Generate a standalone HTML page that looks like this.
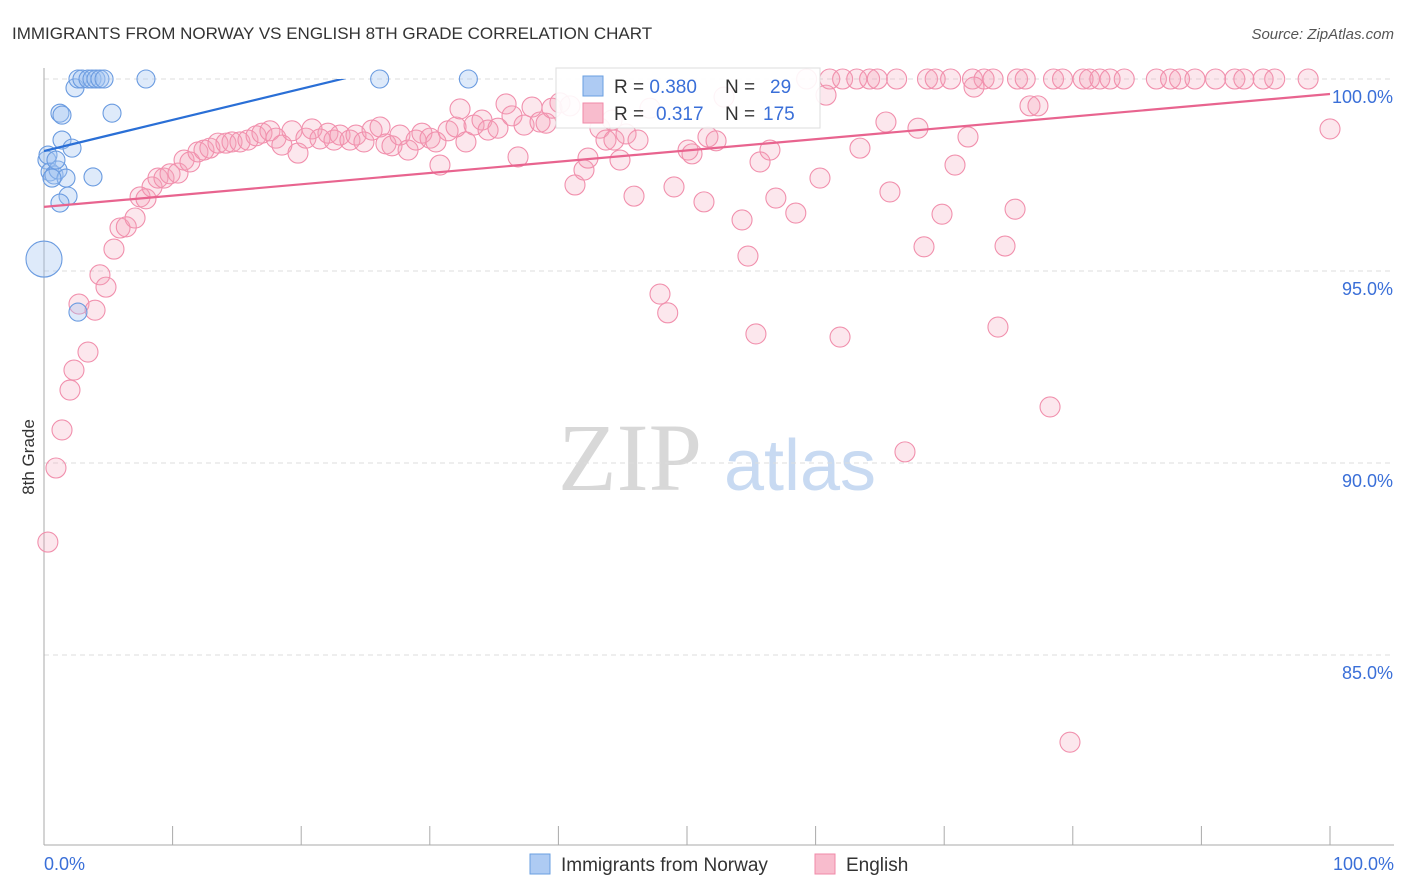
<!DOCTYPE html>
<html><head><meta charset="utf-8"><style>
body{margin:0;background:#fff;font-family:"Liberation Sans",sans-serif;}
svg{display:block}
</style></head><body>
<svg id="chart" width="1406" height="892" viewBox="0 0 1406 892">
<text x="12" y="39" font-size="17" fill="#333">IMMIGRANTS FROM NORWAY VS ENGLISH 8TH GRADE CORRELATION CHART</text>
<text x="1394" y="39" font-size="15" fill="#555" font-style="italic" text-anchor="end">Source: ZipAtlas.com</text>
<text x="630" y="490" font-size="96" fill="#d8d8d8" font-family="Liberation Serif,serif" text-anchor="middle">ZIP</text>
<text x="800" y="490" font-size="72" fill="#c8daf2" text-anchor="middle">atlas</text>
<g id="grid"></g><g id="axes"></g><g id="pts"></g><g id="lines"></g>
<text transform="translate(34,457) rotate(-90)" font-size="17" fill="#333" text-anchor="middle">8th Grade</text>
<g>
<rect x="556" y="68" width="264" height="60" fill="#fff" fill-opacity="0.9" stroke="#ddd"/>
<rect x="583" y="76" width="20" height="20" fill="#aecbf3" stroke="#6a9fe0"/>
<rect x="583" y="103" width="20" height="20" fill="#f8bccd" stroke="#f08aa8"/>
<text x="614" y="93" font-size="19" fill="#333">R = <tspan fill="#3a6fd8">0.380</tspan><tspan x="725">N = </tspan><tspan x="770" fill="#3a6fd8">29</tspan></text>
<text x="614" y="120" font-size="19" fill="#333">R = <tspan x="656" fill="#3a6fd8">0.317</tspan><tspan x="725">N = </tspan><tspan x="763" fill="#3a6fd8">175</tspan></text>
</g>
<g>
<rect x="530" y="854" width="20" height="20" fill="#aecbf3" stroke="#6a9fe0"/>
<text x="561" y="871" font-size="19" fill="#333">Immigrants from Norway</text>
<rect x="815" y="854" width="20" height="20" fill="#f8bccd" stroke="#f08aa8"/>
<text x="846" y="871" font-size="19" fill="#333">English</text>
</g>
</svg>
<script>
const yTicks=[100,95,90,85];
const yTickLabels=["100.0%","95.0%","90.0%","85.0%"];
const xTicks=[0,10,20,30,40,50,60,70,80,90,100];
const blueX=[0.23,0.47,0.78,1.09,1.4,1.71,2.18,2.41,2.64,2.95,3.42,3.73,4.04,4.35,4.67,1.24,1.4,1.87,1.24,3.81,5.29,7.93,26.1,33.0,2.64,0,0.62,0.31,0.93];
const blueY=[97.89,97.58,97.5,97.63,98.41,97.42,98.2,99.77,100,100,100,100,100,100,100,99.11,99.06,96.95,96.77,97.45,99.11,100,100,100,93.93,95.31,97.42,98.02,97.89];
const blueR=[9,9,9,9,9,9,9,9,9,9,9,9,9,9,9,9,9,9,9,9,9,9,9,9,9,18,9,9,9];
const pinkX=[59.3,61.1,62.1,63.2,64.2,64.8,66.3,68.7,69.3,70.5,72.2,73.1,73.8,75.7,76.3,78.5,79.2,80.8,81.3,82.1,82.9,84.0,86.5,87.6,88.3,89.5,91.1,92.6,93.3,94.8,95.7,98.3,
0.3,0.93,1.4,2.02,2.33,3.42,2.72,3.97,4.35,4.82,5.44,5.91,6.4,7.08,7.47,7.93,8.4,8.86,9.33,9.8,10.42,10.89,11.35,11.97,12.44,12.9,13.53,14.15,14.62,15.24,15.86,16.49,16.95,17.57,18.04,18.5,19.28,19.75,20.37,20.84,21.46,22.08,22.55,23.02,23.79,24.26,24.88,25.51,26.13,26.59,27.06,27.68,28.31,28.93,29.39,30.02,30.48,30.79,31.42,32.04,32.35,32.81,33.44,34.06,34.53,35.3,35.93,36.39,36.86,37.33,37.95,38.57,39.04,39.5,40.12,40.9,41.29,41.99,42.3,43.23,43.7,44.17,44.32,44.79,45.26,45.88,46.19,47.12,47.9,48.5,48.99,50.08,50.39,51.32,51.63,52.26,52.88,54.28,54.74,55.36,55.68,56.45,56.91,58.46,60.34,60.81,61.9,63.45,65.47,65.78,66.95,67.96,68.43,69.83,70.84,71.85,72.32,74.18,74.73,75.51,76.67,77.29,78.23,79.78,100];
const pinkY=[100,100,100,100,100,100,100,100,100,100,100,100,100,100,100,100,100,100,100,100,100,100,100,100,100,100,100,100,100,100,100,100,
87.94,89.87,90.86,91.9,92.42,92.89,94.14,93.98,94.9,94.58,95.57,96.12,96.15,96.38,96.93,96.88,97.19,97.42,97.42,97.53,97.55,97.89,97.84,98.1,98.15,98.2,98.33,98.33,98.36,98.36,98.41,98.52,98.59,98.65,98.46,98.28,98.65,98.07,98.46,98.7,98.44,98.59,98.41,98.54,98.41,98.54,98.36,98.67,98.75,98.31,98.26,98.54,98.15,98.41,98.59,98.46,98.36,97.76,98.65,98.75,99.22,98.36,98.8,98.93,98.67,98.72,99.35,99.04,97.97,98.8,99.27,98.88,98.85,99.24,99.38,99.3,97.24,97.63,97.94,98.72,98.41,98.93,98.41,97.89,98.57,96.95,98.41,99.24,94.4,93.91,97.19,98.15,98.05,96.8,98.49,98.39,99.53,96.33,95.39,93.36,97.84,98.15,96.9,96.51,97.42,99.58,93.28,98.2,98.88,97.06,90.29,98.72,95.63,96.48,97.76,98.49,99.79,93.54,95.65,96.61,99.3,99.3,91.46,82.73,98.7];
const blueTrend=[98.125,100.23];
const pinkTrend=[96.67,99.61];
const NS="http://www.w3.org/2000/svg";
const X0=44,X1=1330,YT=79,YB=655,PB=845;
function sx(v){return X0+(X1-X0)*v/100;}
function sy(v){return YT+(100-v)*(YB-YT)/15;}
function mk(tag,attrs,parent){const e=document.createElementNS(NS,tag);for(const k in attrs)e.setAttribute(k,attrs[k]);parent.appendChild(e);return e;}
const grid=document.getElementById('grid'),axes=document.getElementById('axes'),pts=document.getElementById('pts'),lines=document.getElementById('lines');
yTicks.forEach((t,i)=>{
 const l=mk('line',{x1:X0,x2:1394,y1:sy(t),y2:sy(t),stroke:'#ddd','stroke-dasharray':'5,4'},grid);
 
 
 const tx=mk('text',{x:1393,y:sy(t)+24,'font-size':18,fill:'#3a6fd8','text-anchor':'end'},axes);
 tx.textContent=yTickLabels[i];
 
 
});
const ax=mk('line',{x1:X0,x2:X0,y1:68,y2:PB,stroke:'#aaa'},axes);


const bx=mk('line',{x1:X0,x2:1394,y1:PB,y2:PB,stroke:'#aaa'},axes);


xTicks.forEach(t=>{
 const l=mk('line',{x1:sx(t),x2:sx(t),y1:826,y2:PB,stroke:'#aaa'},axes);
 
 
});
const xl0=mk('text',{x:44,y:870,'font-size':18,fill:'#3a6fd8'},axes);xl0.textContent='0.0%';


const xl1=mk('text',{x:1394,y:870,'font-size':18,fill:'#3a6fd8','text-anchor':'end'},axes);xl1.textContent='100.0%';


pinkX.forEach((x,i)=>{
 const c=mk('circle',{cx:sx(x),cy:sy(pinkY[i]),r:10,fill:'rgba(244,160,185,0.25)',stroke:'#f190ad','stroke-width':1.1},pts);
 
 
});
blueX.forEach((x,i)=>{
 const c=mk('circle',{cx:sx(x),cy:sy(blueY[i]),r:blueR[i],fill:'rgba(160,195,240,0.35)',stroke:'#6a9be0','stroke-width':1.1},pts);
 
 
});
const tb=mk('line',{x1:sx(0),y1:sy(blueTrend[0]),x2:sx(26),y2:sy(blueTrend[1]),stroke:'#2a6fd6','stroke-width':2.2},lines);


const tp=mk('line',{x1:sx(0),y1:sy(pinkTrend[0]),x2:sx(100),y2:sy(pinkTrend[1]),stroke:'#e8648f','stroke-width':2.2},lines);


const cp=mk('clipPath',{id:'clip'},document.getElementById('chart'));
mk('rect',{x:X0,y:79,width:1300,height:770},cp);
tb.setAttribute('clip-path','url(#clip)');
</script>
</body></html>
